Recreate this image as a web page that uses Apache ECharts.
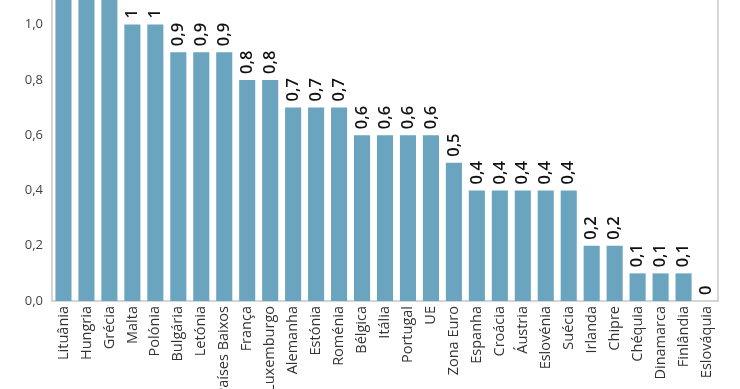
<!DOCTYPE html>
<html><head><meta charset="utf-8">
<script src="https://cdn.jsdelivr.net/npm/echarts@6/dist/echarts.min.js"></script>
<style>html,body{margin:0;padding:0;background:#fff}#c{width:740px;height:389px}</style>
</head><body><div id="c"></div>
<script>
const categories = ["Lituânia","Hungria","Grécia","Malta","Polónia","Bulgária","Letónia","Países Baixos","França","Luxemburgo","Alemanha","Estónia","Roménia","Bélgica","Itália","Portugal","UE","Zona Euro","Espanha","Croácia","Áustria","Eslovénia","Suécia","Irlanda","Chipre","Chéquia","Dinamarca","Finlândia","Eslováquia"];
const values = [1.4,1.3,1.2,1,1,0.9,0.9,0.9,0.8,0.8,0.7,0.7,0.7,0.6,0.6,0.6,0.6,0.5,0.4,0.4,0.4,0.4,0.4,0.2,0.2,0.1,0.1,0.1,0];
const yTicks = [0,0.2,0.4,0.6,0.8,1.0];
const fmt = v => String(v).replace('.', ',');
const chart = echarts.init(document.getElementById('c'));
chart.setOption({
  animation:false,
  grid:{left:52,right:22,top:0,bottom:88,containLabel:false,outerBoundsMode:'none'},
  xAxis:{type:'category',data:categories,
    axisLine:{lineStyle:{color:'#c8c8c8',width:1.5}},axisTick:{show:false},
    axisLabel:{rotate:90,interval:0,color:'#333',fontSize:14.5,fontFamily:'Open Sans',margin:5}},
  yAxis:[{type:'value',min:0,max:1.089,interval:0.2,
    axisLine:{show:true,lineStyle:{color:'#c8c8c8',width:1.5}},axisTick:{show:false},splitLine:{show:false},
    axisLabel:{showMaxLabel:false,color:'#444',fontSize:13,fontFamily:'Open Sans',margin:9,
      formatter:v=>yTicks.some(t=>Math.abs(t-v)<1e-6)?v.toFixed(1).replace('.',','):''}},
   {type:'value',position:'right',min:0,max:1.089,interval:0.2,
    axisLine:{show:true,lineStyle:{color:'#c8c8c8',width:1.5}},axisTick:{show:false},splitLine:{show:false},axisLabel:{show:false}}],
  series:[{type:'bar',data:values,barCategoryGap:'30%',clip:true,
    itemStyle:{color:'#6aa4bf'},
    label:{show:true,position:'top',rotate:90,align:'left',verticalAlign:'middle',distance:6,
      color:'#111',fontSize:16.5,fontWeight:600,fontFamily:'Open Sans',
      formatter:p=>p.value>1.089?'':fmt(p.value)}}]
});
</script></body></html>
